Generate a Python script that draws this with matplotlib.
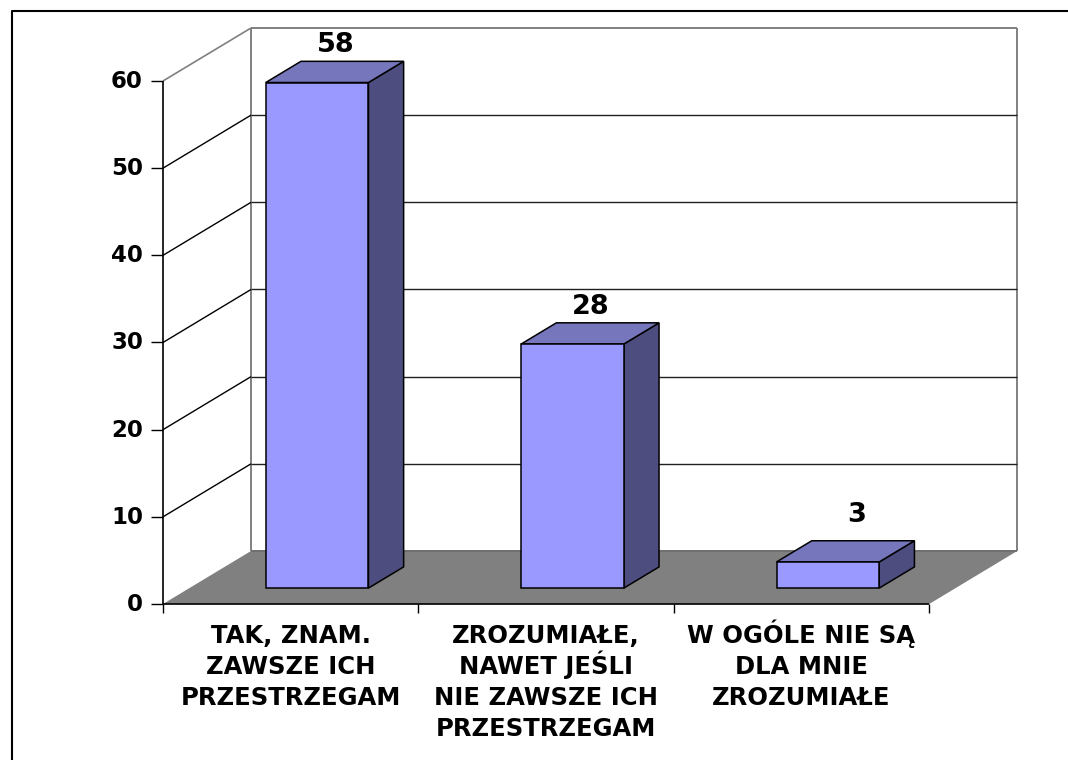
import matplotlib
matplotlib.use("Agg")
import matplotlib.pyplot as plt
from matplotlib.patches import Polygon

categories = ["TAK, ZNAM.\nZAWSZE ICH\nPRZESTRZEGAM",
              "ZROZUMIAŁE,\nNAWET JEŚLI\nNIE ZAWSZE ICH\nPRZESTRZEGAM",
              "W OGÓLE NIE SĄ\nDLA MNIE\nZROZUMIAŁE"]
values = [58, 28, 3]
yticks = [0, 10, 20, 30, 40, 50, 60]

# where the box sits on the page, in pixels
X0, Y0 = 163, 604
CAT_W = 255.4
UNIT = 8.717
DX, DY = 88, 53
BAR_W = 0.402
D1, D2 = 0.30, 0.70

plt.rcParams["font.family"] = ["DejaVu Sans"]
plt.rcParams["font.weight"] = "bold"

fig = plt.figure(figsize=(10.68, 7.6), dpi=100)
ax = fig.add_axes([0, 0, 1, 1])
ax.set_xlim(0, 1068)
ax.set_ylim(760, 0)
ax.axis("off")


def proj(cat, val, depth):
    return (X0 + cat * CAT_W + DX * depth, Y0 - val * UNIT - DY * depth)


def line(a, b, color="black", lw=1.0, z=1):
    ax.plot([a[0], b[0]], [a[1], b[1]], color=color, lw=lw, zorder=z, solid_capstyle="butt")


n = len(categories)
top = yticks[-1]

# outer frame, only top and left show
ax.plot([12, 12, 1068], [760, 11, 11], color="black", lw=1.5, zorder=1)

# floor
ax.add_patch(Polygon([proj(0, 0, 0), proj(0, 0, 1), proj(n, 0, 1), proj(n, 0, 0)],
                     facecolor="#808080", edgecolor="none", zorder=1))

# walls and grid
line(proj(0, 0, 1), proj(0, top, 1), "#808080", 1.4)
line(proj(n, 0, 1), proj(n, top, 1), "#808080", 1.4)
line(proj(0, top, 0), proj(0, top, 1), "#808080", 1.2)
line(proj(0, top, 1), proj(n, top, 1), "#808080", 1.4)
line(proj(0, 0, 1), proj(n, 0, 1), "#6e6e6e", 1.4, 2)
for v in yticks[1:-1]:
    line(proj(0, v, 0), proj(0, v, 1), "black", 1.0)
    line(proj(0, v, 1), proj(n, v, 1), "#202020", 1.0)

# axis lines and ticks
line(proj(0, 0, 0), proj(0, top, 0), "black", 1.2, 3)
line(proj(0, 0, 0), proj(n, 0, 0), "black", 1.2, 3)
for v in yticks:
    p = proj(0, v, 0)
    line((p[0] - 12, p[1]), p, "black", 1.0, 3)
    ax.text(p[0] - 20, p[1] + 0.5, str(v), ha="right", va="center", fontsize=16.5, color="black")
for i in range(n + 1):
    p = proj(i, 0, 0)
    line(p, (p[0], p[1] + 9), "black", 1.0, 3)

# bars
for i, v in enumerate(values):
    c = i + 0.5
    l, r = c - BAR_W / 2, c + BAR_W / 2
    side = [proj(r, 0, D1), proj(r, 0, D2), proj(r, v, D2), proj(r, v, D1)]
    cap = [proj(l, v, D1), proj(r, v, D1), proj(r, v, D2), proj(l, v, D2)]
    front = [proj(l, 0, D1), proj(r, 0, D1), proj(r, v, D1), proj(l, v, D1)]
    for pts, col in [(side, "#4D4D80"), (cap, "#7676BC"), (front, "#9999FF")]:
        ax.add_patch(Polygon(pts, facecolor=col, edgecolor="black", lw=1.1, joinstyle="miter", zorder=4))

    # value label above the back edge of the bar
    bx = proj(c, v, (D1 + D2) / 2)[0]
    by = proj(c, v, D2)[1]
    if v < 10:
        bx, by = bx + 10, by - 10
    ax.text(bx + 1, by - 16, str(v), ha="center", va="center", fontsize=19.5, color="black", zorder=5)

# category labels, one text per line so the accents do not shift the block
for i, lab in enumerate(categories):
    x = proj(i + 0.5, 0, 0)[0]
    for k, row in enumerate(lab.split("\n")):
        ax.text(x, 643 + 31 * k, row, ha="center", va="baseline", fontsize=17.5, color="black")

fig.savefig("out.png", dpi=100)
